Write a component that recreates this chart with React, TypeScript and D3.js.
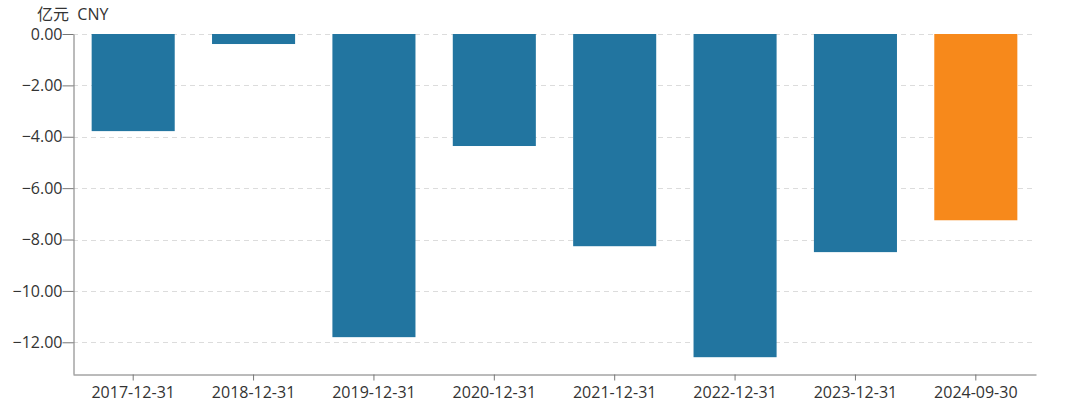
import React, { useEffect, useRef } from "react";
import * as d3 from "d3";

const categories = ["2017-12-31", "2018-12-31", "2019-12-31", "2020-12-31", "2021-12-31", "2022-12-31", "2023-12-31", "2024-09-30"];
const values = [-3.78, -0.39, -11.8, -4.36, -8.26, -12.58, -8.49, -7.25];
const yTicks = [0, -2, -4, -6, -8, -10, -12];
const unitLabel = "亿元  CNY";

const W = 1080, H = 415;
const margin = { left: 73, right: 44, top: 34, bottom: 41 };
const FONT = "'Open Sans', 'Noto Sans CJK SC', sans-serif";

export default function App() {
  const ref = useRef<SVGSVGElement>(null);
  useEffect(() => {
    const svg = d3.select(ref.current);
    svg.selectAll("*").remove();
    const x = d3.scaleBand().domain(categories).range([margin.left, W - margin.right]).paddingInner(0.31).paddingOuter(0.155);
    const minV = d3.min(values)! * 1.052;
    const y = d3.scaleLinear().domain([minV, 0]).range([H - margin.bottom, margin.top]);

    // grid
    svg.append("g").selectAll("line").data(yTicks).join("line")
      .attr("x1", margin.left).attr("x2", W - margin.right)
      .attr("y1", d => Math.round(y(d)) + 0.5).attr("y2", d => Math.round(y(d)) + 0.5)
      .attr("stroke", "#dcdcdc").attr("stroke-dasharray", "5,4");

    // bars
    svg.append("g").selectAll("rect").data(values).join("rect")
      .attr("x", (_, i) => x(categories[i])!)
      .attr("width", x.bandwidth())
      .attr("y", y(0))
      .attr("height", d => y(d) - y(0))
      .attr("fill", (_, i) => i === categories.length - 1 ? "#f7891b" : "#2275a0");

    // y axis
    const ya = svg.append("g").attr("transform", `translate(${margin.left + 0.5},0)`)
      .call(d3.axisLeft(y).tickValues(yTicks).tickFormat(d3.format(".2f")).tickSize(11).tickSizeOuter(0));
    ya.select(".domain").attr("stroke", "#777");
    ya.selectAll(".tick line").attr("stroke", "#777");
    ya.selectAll(".tick text").attr("fill", "#333").attr("font-size", 16).attr("font-family", FONT).attr("x", -11).attr("dy", "0.32em");

    // x axis
    const xa = svg.append("g").attr("transform", `translate(0,${H - margin.bottom + 0.5})`)
      .call(d3.axisBottom(x).tickSize(6).tickSizeOuter(0));
    xa.select(".domain").attr("stroke", "#777");
    xa.selectAll(".tick line").attr("stroke", "#777");
    xa.selectAll(".tick text").attr("fill", "#333").attr("font-size", 16).attr("font-family", FONT).attr("y", 12).attr("dy", "0.71em");

    svg.append("text").attr("x", 37).attr("y", 20).attr("font-size", 16).attr("font-family", FONT).attr("fill", "#333").attr("xml:space", "preserve").style("white-space", "pre").text(unitLabel);
  }, []);
  return <svg ref={ref} width={W} height={H} style={{ position: "absolute", left: 0, top: 0 }} />;
}
